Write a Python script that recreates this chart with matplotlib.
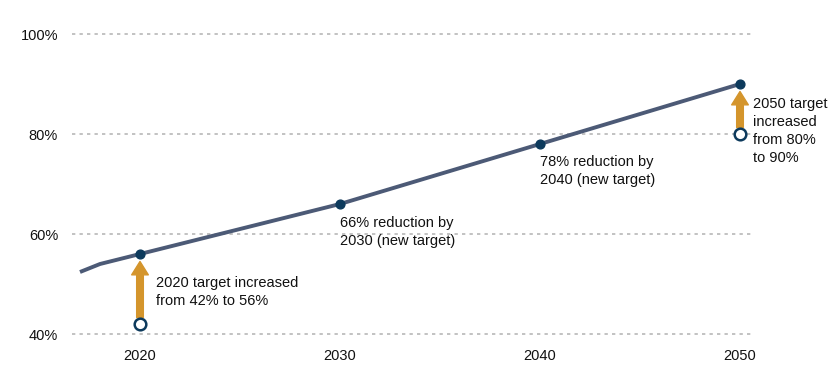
import matplotlib
matplotlib.use("Agg")
import matplotlib.pyplot as plt

plt.rcParams['font.family'] = ['Liberation Sans', 'DejaVu Sans']

years = [2017, 2018, 2020, 2030, 2040, 2050]
targets = [52.4, 54.0, 56, 66, 78, 90]
marker_years = [2020, 2030, 2040, 2050]
marker_vals = [56, 66, 78, 90]
old_years = [2020, 2050]
old_vals = [42, 80]
yticks = [40, 60, 80, 100]
xticks = [2020, 2030, 2040, 2050]

line_color = '#4c5a76'
dot_color = '#0d3a5c'
arrow_color = '#d4952c'
text_color = '#111111'

fig = plt.figure(figsize=(8.4, 3.67), dpi=100)
ax = fig.add_axes([72/840, (367-334)/367, (752-72)/840, 300/367])
ax.set_xlim(2016.6, 2050.6)
ax.set_ylim(40, 100)

for v in yticks:
    ax.axhline(v, color='#b8b8b8', lw=1.2, ls=(0, (2, 2.5)), zorder=0, clip_on=False)

ax.plot(years, targets, color=line_color, lw=2.8, zorder=2, solid_capstyle='butt')
ax.scatter(marker_years, marker_vals, s=40, color=dot_color, zorder=4, clip_on=False)
ax.scatter(old_years, old_vals, s=70, facecolor='white', edgecolor=dot_color, lw=1.8, zorder=4, clip_on=False)

for x0, y0, y1 in [(old_years[0], old_vals[0], marker_vals[0]), (old_years[1], old_vals[1], marker_vals[3])]:
    ax.annotate('', xy=(x0, y1 - 1.5), xytext=(x0, y0 + 1.3),
                arrowprops=dict(arrowstyle='simple,head_length=0.6,head_width=0.75,tail_width=0.3',
                                color=arrow_color, shrinkA=0, shrinkB=0, mutation_scale=16),
                zorder=3, annotation_clip=False)

fs = 10.5
ls = 1.35
ax.text(2020.8, 48.4, '2020 target increased\nfrom 42% to 56%', fontsize=fs, va='center', ha='left',
        color=text_color, linespacing=ls)
ax.text(2030.0, 60.4, '66% reduction by\n2030 (new target)', fontsize=fs, va='center', ha='left',
        color=text_color, linespacing=ls)
ax.text(2040.0, 72.6, '78% reduction by\n2040 (new target)', fontsize=fs, va='center', ha='left',
        color=text_color, linespacing=ls)
ax.text(2050.65, 80.6, '2050 target\nincreased\nfrom 80%\nto 90%', fontsize=fs, va='center', ha='left',
        color=text_color, linespacing=ls)

ax.set_xticks(xticks)
ax.set_xticklabels([str(x) for x in xticks], fontsize=fs, color=text_color)
ax.set_yticks(yticks)
ax.set_yticklabels([f'{v}%' for v in yticks], fontsize=fs, color=text_color)
ax.tick_params(length=0)
ax.tick_params(axis='x', pad=11)
ax.tick_params(axis='y', pad=10)
for s in ax.spines.values():
    s.set_visible(False)

fig.savefig('out.png', dpi=100)
